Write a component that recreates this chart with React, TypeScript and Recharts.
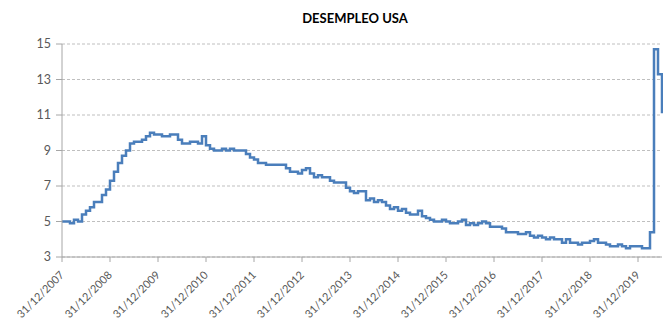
import React from "react";
import { LineChart, Line, XAxis, YAxis, CartesianGrid } from "recharts";

// Monthly US unemployment rate (%), Dec 2007 -> Jun 2020
const rate2007 = [5.0];
const rate2008 = [5.0, 4.9, 5.1, 5.0, 5.4, 5.6, 5.8, 6.1, 6.1, 6.5, 6.8, 7.3];
const rate2009 = [7.8, 8.3, 8.7, 9.0, 9.4, 9.5, 9.5, 9.6, 9.8, 10.0, 9.9, 9.9];
const rate2010 = [9.8, 9.8, 9.9, 9.9, 9.6, 9.4, 9.4, 9.5, 9.5, 9.4, 9.8, 9.3];
const rate2011 = [9.1, 9.0, 9.0, 9.1, 9.0, 9.1, 9.0, 9.0, 9.0, 8.8, 8.6, 8.5];
const rate2012 = [8.3, 8.3, 8.2, 8.2, 8.2, 8.2, 8.2, 8.0, 7.8, 7.8, 7.7, 7.9];
const rate2013 = [8.0, 7.7, 7.5, 7.6, 7.5, 7.5, 7.3, 7.2, 7.2, 7.2, 6.9, 6.7];
const rate2014 = [6.6, 6.7, 6.7, 6.2, 6.3, 6.1, 6.2, 6.1, 5.9, 5.7, 5.8, 5.6];
const rate2015 = [5.7, 5.5, 5.4, 5.4, 5.6, 5.3, 5.2, 5.1, 5.0, 5.0, 5.1, 5.0];
const rate2016 = [4.9, 4.9, 5.0, 5.1, 4.8, 4.9, 4.8, 4.9, 5.0, 4.9, 4.7, 4.7];
const rate2017 = [4.7, 4.6, 4.4, 4.4, 4.4, 4.3, 4.3, 4.4, 4.2, 4.1, 4.2, 4.1];
const rate2018 = [4.0, 4.1, 4.0, 4.0, 3.8, 4.0, 3.8, 3.8, 3.7, 3.8, 3.8, 3.9];
const rate2019 = [4.0, 3.8, 3.8, 3.7, 3.6, 3.6, 3.7, 3.6, 3.5, 3.6, 3.6, 3.6];
const rate2020 = [3.5, 3.5, 4.4, 14.7, 13.3, 11.1];

const rates = [
  ...rate2007, ...rate2008, ...rate2009, ...rate2010, ...rate2011, ...rate2012, ...rate2013,
  ...rate2014, ...rate2015, ...rate2016, ...rate2017, ...rate2018, ...rate2019, ...rate2020,
];

const xTicks = [
  "31/12/2007", "31/12/2008", "31/12/2009", "31/12/2010", "31/12/2011", "31/12/2012", "31/12/2013",
  "31/12/2014", "31/12/2015", "31/12/2016", "31/12/2017", "31/12/2018", "31/12/2019",
];
const yTicks = [3, 5, 7, 9, 11, 13, 15];

const pad = (n: number) => (n < 10 ? "0" + n : "" + n);

// label each month by its last day, starting Dec 2007
const data = rates.map((v, i) => {
  const m = 11 + i; // months since Jan 2007
  const year = 2007 + Math.floor(m / 12);
  const month = (m % 12) + 1;
  const last = new Date(year, month, 0).getDate();
  return { date: `${pad(last)}/${pad(month)}/${year}`, rate: v };
});

const axisColor = "#595959";

// rotated date label, its end sits just below-right of the tick
const DateTick = (props: any) => {
  const { x, y, payload } = props;
  return (
    <g transform={`translate(${x},${y + 9})`}>
      <text x={0} y={0} dy="0.35em" textAnchor="end" transform="rotate(-45)" fill={axisColor} fontSize={11}>
        {payload.value}
      </text>
    </g>
  );
};

const App = () => {
  return (
    <div style={{ position: "absolute", left: 0, top: 0, width: 663, height: 329, background: "#fff", fontFamily: "Lato, 'Open Sans', sans-serif" }}>
      <div style={{ position: "absolute", left: 0, top: 10, width: 710, textAlign: "center", fontSize: 13, fontWeight: 700, color: "#000" }}>
        DESEMPLEO USA
      </div>
      <LineChart width={663} height={329} data={data} margin={{ top: 44, right: 1, bottom: 12, left: 0 }}>
        <CartesianGrid vertical={false} stroke="#bfbfbf" strokeDasharray="3 2" />
        <XAxis
          dataKey="date"
          ticks={xTicks}
          interval={0}
          height={60}
          tickSize={5}
          stroke="#a6a6a6"
          tick={<DateTick />}
        />
        <YAxis
          domain={[3, 15]}
          ticks={yTicks}
          width={62}
          tickSize={6}
          tickMargin={5}
          stroke="#a6a6a6"
          tick={{ fill: axisColor, fontSize: 12.5 }}
        />
        <Line
          type="stepAfter"
          dataKey="rate"
          stroke="#4a7ebb"
          strokeWidth={2.5}
          dot={false}
          isAnimationActive={false}
        />
      </LineChart>
    </div>
  );
};

export default App;
